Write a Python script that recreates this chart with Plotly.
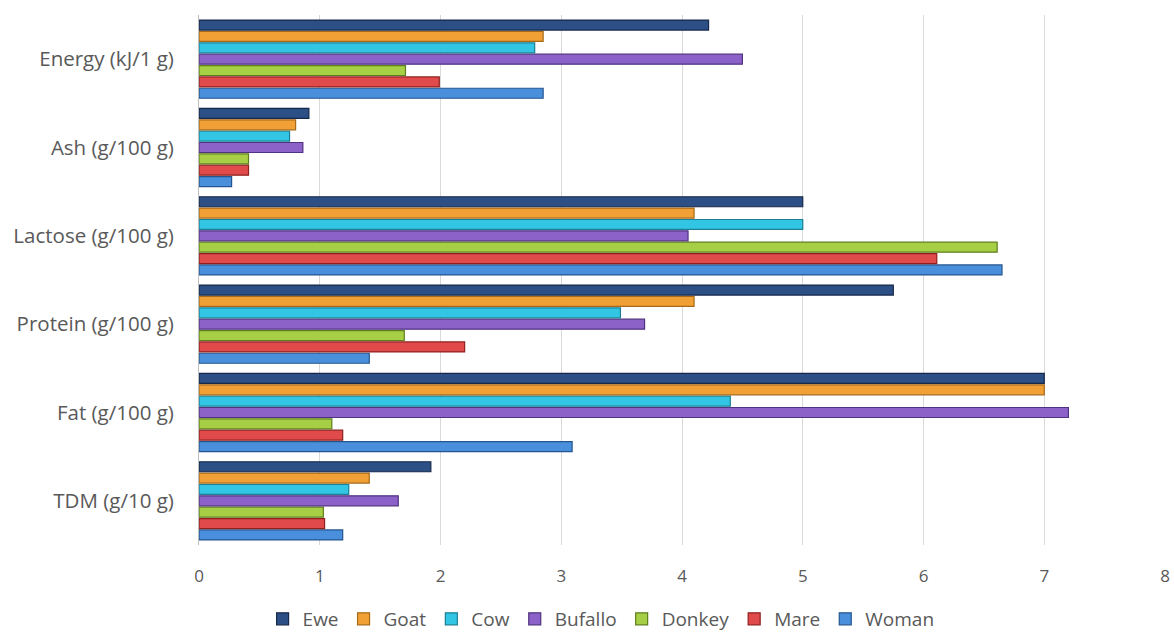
import plotly.graph_objects as go

categories = ["TDM (g/10 g)", "Fat (g/100 g)", "Protein (g/100 g)",
              "Lactose (g/100 g)", "Ash (g/100 g)", "Energy (kJ/1 g)"]

series_names = ["Ewe", "Goat", "Cow", "Bufallo", "Donkey", "Mare", "Woman"]

ewe =     [1.92, 7.0, 5.75, 5.0, 0.91, 4.22]
goat =    [1.41, 7.0, 4.10, 4.10, 0.80, 2.85]
cow =     [1.24, 4.40, 3.49, 5.0, 0.75, 2.78]
bufallo = [1.65, 7.2, 3.69, 4.05, 0.86, 4.50]
donkey =  [1.03, 1.10, 1.70, 6.61, 0.41, 1.71]
mare =    [1.04, 1.19, 2.20, 6.11, 0.41, 1.99]
woman =   [1.19, 3.09, 1.41, 6.65, 0.27, 2.85]

values = [ewe, goat, cow, bufallo, donkey, mare, woman]
colors = ["#2c4f86", "#f0a035", "#33c6e4", "#8c62c8", "#a6cf45", "#e04a4a", "#4a8fdc"]
edges = ["#16294a", "#a86a18", "#1d7f96", "#4f3280", "#5f7f1e", "#8f2020", "#24558f"]

fig = go.Figure()
# add in reverse so Ewe sits on top of each group
for name, vals, c, e in reversed(list(zip(series_names, values, colors, edges))):
    fig.add_trace(go.Bar(
        y=categories, x=vals, name=name, orientation="h",
        marker=dict(color=c, line=dict(color=e, width=1.2)),
    ))

fig.update_layout(
    width=1174, height=638,
    barmode="group", bargap=0.1, bargroupgap=0.12,
    paper_bgcolor="white", plot_bgcolor="white",
    margin=dict(l=199, r=9, t=15, b=93),
    font=dict(family="Open Sans", size=18, color="#595959"),
    legend=dict(orientation="h", xref="container", x=0.512, xanchor="center",
                yref="container", y=0.0, yanchor="bottom",
                traceorder="reversed", font=dict(size=19, color="#595959"),
                itemwidth=30, tracegroupgap=0),
    xaxis=dict(range=[0, 8], dtick=1, showgrid=True, gridcolor="#d9d9d9",
               gridwidth=1, zeroline=False, ticks="", tickfont=dict(size=17),
               showline=False, automargin=False, ticklabelstandoff=19),
    yaxis=dict(showline=True, linecolor="#bfbfbf", ticks="",
               tickfont=dict(size=20.5), showgrid=False, automargin=False,
               ticklabelstandoff=20),
)

fig.write_html(
    "out.html",
    config={"displayModeBar": False},
    post_script="document.body.style.margin='0';document.body.style.overflow='hidden';",
)
